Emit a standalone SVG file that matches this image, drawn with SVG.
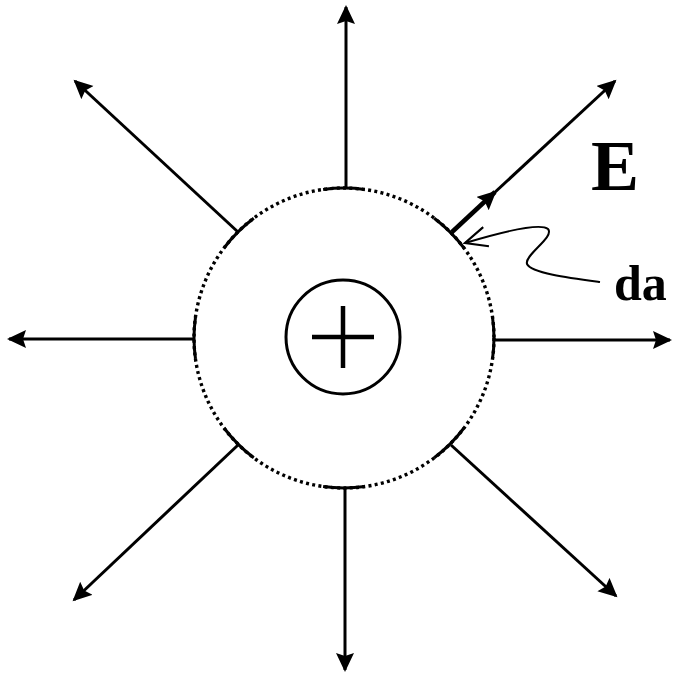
<svg xmlns="http://www.w3.org/2000/svg" width="673" height="675" viewBox="0 0 673 675">
  <style>
    .ray { stroke: #000; stroke-width: 3; fill: none; marker-end: url(#arrow); }
    .patch { stroke: #000; stroke-width: 3; fill: none; }
    .lbl { font-family: "Liberation Serif", "Times New Roman", serif; font-weight: bold; fill: #000; }
  </style>
  <defs>
    <marker id="arrow" markerUnits="userSpaceOnUse" markerWidth="22" markerHeight="20" refX="17" refY="9" orient="auto">
      <path d="M0,0 L19,9 L0,18 L3,9 z" fill="#000"/>
    </marker>
    <marker id="open" markerUnits="userSpaceOnUse" markerWidth="28" markerHeight="24" refX="2" refY="11" orient="auto">
      <path d="M24,1 L2,11 L24,21" fill="none" stroke="#000" stroke-width="2.2"/>
    </marker>
  </defs>
  <rect width="673" height="675" fill="#fff"/>

  <g id="surface">
    <circle cx="344" cy="338" r="150" fill="none" stroke="#000" stroke-width="3.4" stroke-dasharray="3 3.3"/>
    <g id="patches">
      <path class="patch" d="M492.5,317.1 A150,150 0 0 1 492.5,358.9"/>
      <path class="patch" d="M492.5,317.1 A150,150 0 0 1 492.5,358.9" transform="rotate(45 344 338)"/>
      <path class="patch" d="M492.5,317.1 A150,150 0 0 1 492.5,358.9" transform="rotate(90 344 338)"/>
      <path class="patch" d="M492.5,317.1 A150,150 0 0 1 492.5,358.9" transform="rotate(135 344 338)"/>
      <path class="patch" d="M492.5,317.1 A150,150 0 0 1 492.5,358.9" transform="rotate(180 344 338)"/>
      <path class="patch" d="M492.5,317.1 A150,150 0 0 1 492.5,358.9" transform="rotate(225 344 338)"/>
      <path class="patch" d="M492.5,317.1 A150,150 0 0 1 492.5,358.9" transform="rotate(270 344 338)"/>
      <path class="patch" d="M492.5,317.1 A150,150 0 0 1 492.5,358.9" transform="rotate(315 344 338)"/>
    </g>
  </g>

  <g id="charge">
    <circle cx="343" cy="337" r="57" fill="#fff" stroke="#000" stroke-width="3"/>
    <line x1="312" y1="337" x2="374" y2="337" stroke="#000" stroke-width="4.5"/>
    <line x1="343" y1="306" x2="343" y2="368" stroke="#000" stroke-width="4.5"/>
  </g>

  <g id="connectors">
    <line class="ray" x1="346" y1="188" x2="346" y2="7"/>
    <line class="ray" x1="345" y1="488" x2="345" y2="670"/>
    <line class="ray" x1="194" y1="339" x2="9" y2="339"/>
    <line class="ray" x1="494" y1="340" x2="670" y2="340"/>
    <line class="ray" x1="238" y1="232" x2="75" y2="81"/>
    <line class="ray" x1="452" y1="232" x2="615" y2="81"/>
    <line class="ray" x1="238" y1="445" x2="74" y2="600"/>
    <line class="ray" x1="451" y1="445" x2="616" y2="596"/>
    <line id="E-vector" class="ray" x1="452" y1="232" x2="495" y2="192" style="stroke-width:4.5"/>
    <path id="da-pointer" d="M465,243 C495,234 540,222 548,229 C555,237 524,255 527,264 C531,273 570,278 600,282" fill="none" stroke="#000" stroke-width="2" marker-start="url(#open)"/>
  </g>

  <g id="labels">
    <text class="lbl" x="591" y="190" font-size="72">E</text>
    <text class="lbl" x="614" y="300" font-size="50">da</text>
  </g>
</svg>
